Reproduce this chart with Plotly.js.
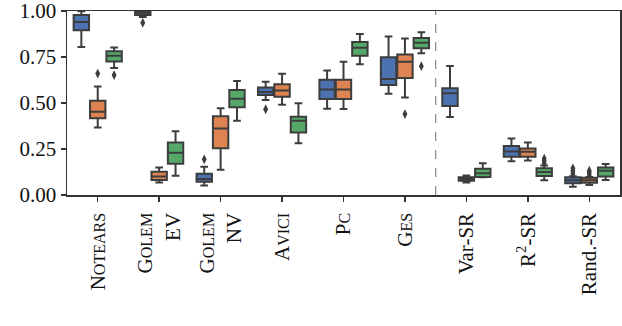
<!DOCTYPE html>
<html><head><meta charset="utf-8">
<script src="https://cdn.plot.ly/plotly-3.0.1.min.js"></script>
<style>html,body{margin:0;padding:0;background:#fff}</style>
</head><body><div id="chart" style="width:622px;height:326px"></div>
<script>
// ---- data ----
const categories = ["NOTEARS", "GOLEM EV", "GOLEM NV", "AVICI", "PC", "GES", "Var-SR", "R2-SR", "Rand.-SR"];
const sc = s => '<span style="font-size:16px">' + s + '</span>';
const tickLabels = [
  "N" + sc("OTEARS"),
  "G" + sc("OLEM") + "<br>EV",
  "G" + sc("OLEM") + "<br>NV",
  "A" + sc("VICI"),
  "P" + sc("C"),
  "G" + sc("ES"),
  "Var-SR",
  "R<sup>2</sup>-SR",
  "Rand.-SR"
];

// Series 1 (blue)
const blueLo  = [0.805, 0.968, 0.052, 0.516, 0.469, 0.550, 0.424, 0.183, 0.045];
const blueQ1  = [0.895, 0.978, 0.072, 0.543, 0.522, 0.598, 0.484, 0.208, 0.064];
const blueMed = [0.940, 0.990, 0.087, 0.560, 0.574, 0.631, 0.553, 0.237, 0.080];
const blueQ3  = [0.978, 0.998, 0.115, 0.584, 0.626, 0.748, 0.580, 0.266, 0.097];
const blueHi  = [0.998, 1.000, 0.153, 0.615, 0.677, 0.862, 0.701, 0.307, 0.102];
const blueOutCat = [1, 2, 3, 8, 8, 8];
const blueOutVal = [0.936, 0.194, 0.466, 0.115, 0.130, 0.145];

// Series 2 (orange)
const orangeLo  = [0.367, 0.068, 0.137, 0.491, 0.467, 0.530, 0.068, 0.188, 0.054];
const orangeQ1  = [0.417, 0.082, 0.254, 0.534, 0.522, 0.636, 0.078, 0.208, 0.066];
const orangeMed = [0.452, 0.101, 0.362, 0.568, 0.574, 0.724, 0.088, 0.235, 0.080];
const orangeQ3  = [0.512, 0.127, 0.428, 0.602, 0.626, 0.763, 0.097, 0.253, 0.094];
const orangeHi  = [0.590, 0.149, 0.471, 0.659, 0.724, 0.851, 0.106, 0.286, 0.098];
const orangeOutCat = [0, 5, 8, 8, 8];
const orangeOutVal = [0.660, 0.440, 0.110, 0.122, 0.132];

// Series 3 (green)
const greenLo  = [0.690, 0.104, 0.404, 0.281, 0.710, 0.770, 0.096, 0.080, 0.082];
const greenQ1  = [0.725, 0.170, 0.477, 0.340, 0.757, 0.797, 0.098, 0.103, 0.101];
const greenMed = [0.757, 0.230, 0.523, 0.403, 0.800, 0.827, 0.118, 0.125, 0.132];
const greenQ3  = [0.781, 0.285, 0.570, 0.425, 0.831, 0.853, 0.142, 0.145, 0.150];
const greenHi  = [0.802, 0.347, 0.619, 0.498, 0.875, 0.885, 0.172, 0.160, 0.168];
const greenOutCat = [0, 5, 7, 7, 7];
const greenOutVal = [0.652, 0.700, 0.172, 0.185, 0.198];

const yTicks = [0, 0.25, 0.5, 0.75, 1.0];
const yTickText = ["0.00", "0.25", "0.50", "0.75", "1.00"];
const separatorAfter = 5; // dashed line between GES and Var-SR

// ---- drawing ----
const edge = '#3d3d3d';
const groupW = 0.8, nSeries = 3, boxW = groupW / nSeries * 0.94;
const series = [
  {name: 'Series 1', color: '#4C72B0', lo: blueLo, q1: blueQ1, med: blueMed, q3: blueQ3, hi: blueHi, oc: blueOutCat, ov: blueOutVal},
  {name: 'Series 2', color: '#DD8452', lo: orangeLo, q1: orangeQ1, med: orangeMed, q3: orangeQ3, hi: orangeHi, oc: orangeOutCat, ov: orangeOutVal},
  {name: 'Series 3', color: '#55A868', lo: greenLo, q1: greenQ1, med: greenMed, q3: greenQ3, hi: greenHi, oc: greenOutCat, ov: greenOutVal}
];
const traces = [];
series.forEach((s, k) => {
  const off = (k - (nSeries - 1) / 2) * groupW / nSeries;
  traces.push({
    type: 'box', name: s.name, showlegend: false,
    x: categories.map((c, i) => i + off),
    q1: s.q1, median: s.med, q3: s.q3, lowerfence: s.lo, upperfence: s.hi,
    width: boxW, whiskerwidth: 0.5,
    fillcolor: s.color, line: {color: edge, width: 2},
    boxpoints: false, hoverinfo: 'y'
  });
  traces.push({
    type: 'scatter', mode: 'markers', showlegend: false,
    x: s.oc.map(i => i + off), y: s.ov,
    marker: {symbol: 'diamond-tall', size: 7, color: edge, line: {width: 0}},
    cliponaxis: false
  });
});

const layout = {
  width: 622, height: 326,
  margin: {l: 67, r: 2, t: 11, b: 131},
  paper_bgcolor: '#fff', plot_bgcolor: '#fff',
  font: {family: '"Liberation Serif", "DejaVu Serif", serif', size: 21, color: '#111'},
  showlegend: false,
  xaxis: {
    range: [-0.5, categories.length - 0.5],
    tickmode: 'array', tickvals: categories.map((c, i) => i), ticktext: tickLabels,
    tickangle: -90, ticks: 'outside', ticklen: 5, tickwidth: 1.5, tickcolor: '#333',
    showline: true, linecolor: '#333', linewidth: 1.5, mirror: true,
    showgrid: false, zeroline: false, tickfont: {size: 21}, ticklabelstandoff: 3,
    ticklabeloverflow: 'allow'
  },
  yaxis: {
    range: [0, 1.0],
    tickmode: 'array', tickvals: yTicks, ticktext: yTickText,
    ticks: 'outside', ticklen: 5, tickwidth: 1.5, tickcolor: '#333',
    showline: true, linecolor: '#333', linewidth: 1.5, mirror: true,
    showgrid: false, zeroline: false, tickfont: {size: 21},
    ticklabeloverflow: 'allow'
  },
  shapes: [{
    type: 'line', xref: 'x', yref: 'paper',
    x0: separatorAfter + 0.5, x1: separatorAfter + 0.5, y0: 0, y1: 1,
    line: {color: '#888', width: 1.2, dash: 'dash'}
  }]
};
Plotly.newPlot('chart', traces, layout, {displayModeBar: false, staticPlot: true});
</script></body></html>
